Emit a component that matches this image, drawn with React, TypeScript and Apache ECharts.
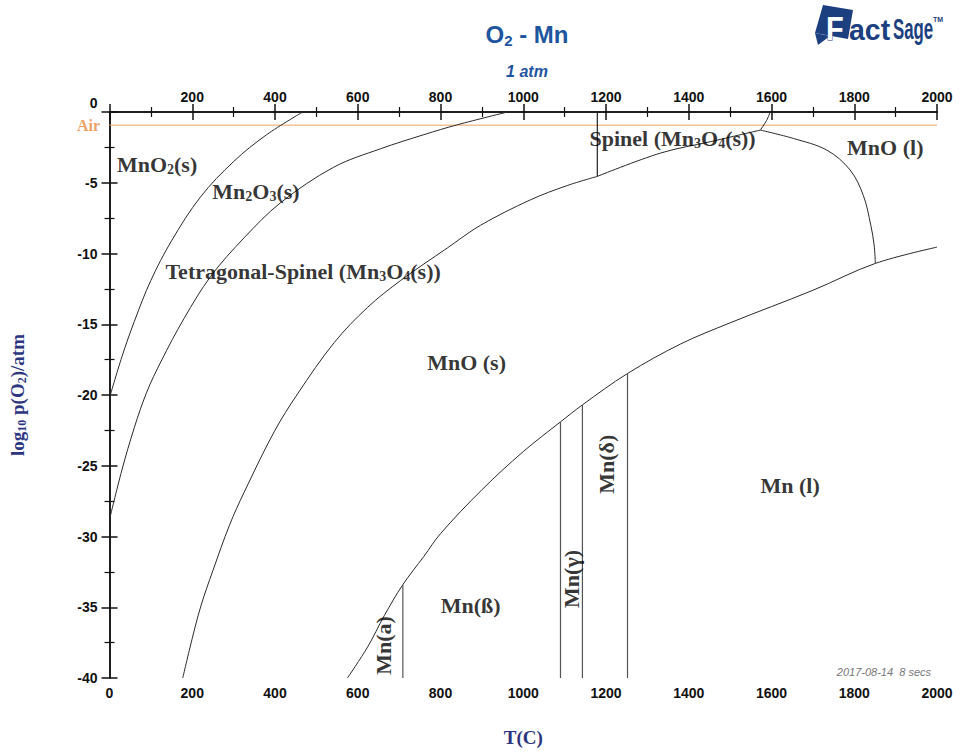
import React, { useEffect, useRef } from "react";
import * as echarts from "echarts";

// ---- data (T in °C, log10 pO2 in atm) ----
const X_TICKS = [0, 200, 400, 600, 800, 1000, 1200, 1400, 1600, 1800, 2000];
const Y_TICKS = [0, -5, -10, -15, -20, -25, -30, -35, -40];
const AIR = -0.93;

const T_MNO2 = [0, 30, 60, 100, 150, 220, 300, 380, 467];
const V_MNO2 = [-20.2, -17.3, -14.8, -11.9, -9.1, -6.0, -3.5, -1.6, 0];

const T_MN2O3 = [0, 30, 60, 90, 125, 180, 245, 325, 414, 542, 655, 760, 841, 962];
const V_MN2O3 = [-28.8, -25.3, -22.3, -19.8, -17.6, -14.6, -11.6, -8.9, -6.4, -3.9, -2.6, -1.6, -0.9, 0];

const T_MN3O4 = [177, 200, 221, 250, 290, 325, 398, 455, 543, 624, 704, 817, 897, 1018, 1106, 1179];
const V_MN3O4 = [-40, -37.2, -34.9, -32.4, -29.2, -26.9, -22.6, -19.9, -16.3, -13.8, -11.9, -9.6, -8.0, -6.2, -5.2, -4.55];

const T_SPINEL = [1179, 1332, 1452, 1573];
const V_SPINEL = [-4.55, -2.9, -2.1, -1.28];

const T_SPL = [1573, 1588, 1597];
const V_SPL = [-1.28, -0.6, 0];

const T_MNOL = [1573, 1653, 1734, 1790, 1822, 1840, 1848, 1851];
const V_MNOL = [-1.28, -1.87, -2.7, -4.1, -5.9, -8.0, -9.4, -10.7];

const T_MN = [575, 624, 664, 709, 760, 800, 900, 1000, 1090, 1143, 1251, 1380, 1500, 1700, 1851, 2000];
const V_MN = [-40, -37.8, -35.6, -33.4, -31.4, -29.8, -26.7, -24.0, -21.9, -20.7, -18.5, -16.4, -14.9, -12.6, -10.7, -9.55];

// vertical transitions: [T, top value, bottom value]
const VERTICALS = [
  [1179, 0, -4.55],
  [709, -33.4, -40],
  [1090, -21.9, -40],
  [1143, -20.7, -40],
  [1252, -18.5, -40],
];

// region labels: [T, value, text, rotated]
const REGION_LABELS: [number, number, string, boolean][] = [
  [115, -3.7, "{b|MnO}{s|2}{b|(s)}", false],
  [354, -5.6, "{b|Mn}{s|2}{b|O}{s|3}{b|(s)}", false],
  [468, -11.3, "{b|Tetragonal-Spinel (Mn}{s|3}{b|O}{s|4}{b|(s))}", false],
  [1361, -1.85, "{b|Spinel (Mn}{s|3}{b|O}{s|4}{b|(s))}", false],
  [1875, -2.5, "{b|MnO (l)}", false],
  [863, -17.7, "{b|MnO (s)}", false],
  [1645, -26.4, "{b|Mn (l)}", false],
  [873, -34.9, "{b|Mn(ß)}", false],
  [663, -37.7, "{b|Mn(a)}", true],
  [1117, -33.0, "{b|Mn(γ)}", true],
  [1201, -24.9, "{b|Mn(δ)}", true],
];

const zip = (a: number[], b: number[]) => a.map((t, i) => [t, b[i]]);

export default function App() {
  const ref = useRef<HTMLDivElement>(null);
  useEffect(() => {
    if (!ref.current) return;
    const chart = echarts.init(ref.current, undefined, { renderer: "svg" });
    const lineColor = "#2a2a2a";
    const curve = (name: string, data: number[][]) => ({
      name,
      type: "line",
      data,
      smooth: 0.35,
      showSymbol: false,
      symbol: "none",
      lineStyle: { color: lineColor, width: 1 },
      z: 3,
    });
    const navy = "#1c3f80";
    const series: any[] = [
      curve("MnO2/Mn2O3", zip(T_MNO2, V_MNO2)),
      curve("Mn2O3/Mn3O4", zip(T_MN2O3, V_MN2O3)),
      curve("Mn3O4/MnO", zip(T_MN3O4, V_MN3O4)),
      curve("Spinel/MnO", zip(T_SPINEL, V_SPINEL)),
      curve("Spinel/liq", zip(T_SPL, V_SPL)),
      curve("MnO s/l", zip(T_MNOL, V_MNOL)),
      curve("MnO/Mn", zip(T_MN, V_MN)),
      ...VERTICALS.map((v, i) => ({
        name: "v" + i,
        type: "line",
        data: [
          [v[0], v[1]],
          [v[0], v[2]],
        ],
        showSymbol: false,
        symbol: "none",
        lineStyle: { color: i === 0 ? "#222" : "#555", width: 1.2 },
        z: 3,
      })),
      {
        name: "Air",
        type: "line",
        data: [
          [0, AIR],
          [2000, AIR],
        ],
        showSymbol: false,
        symbol: "none",
        lineStyle: { color: "#f0a060", width: 1 },
        z: 2,
      },
      {
        name: "labels",
        type: "scatter",
        symbolSize: 1,
        itemStyle: { color: "rgba(0,0,0,0)" },
        z: 5,
        data: REGION_LABELS.map((l) => ({
          value: [l[0], l[1]],
          label: {
            show: true,
            position: "inside",
            formatter: l[2],
            rotate: l[3] ? 90 : 0,
            rich: {
              b: { fontFamily: "Liberation Serif", fontWeight: "bold", fontSize: 22, color: "#000" },
              s: {
                fontFamily: "Liberation Serif",
                fontWeight: "bold",
                fontSize: 14,
                color: "#000",
                padding: [10, 0, 0, 0],
              },
            },
          },
        })),
      },
      {
        name: "airLabel",
        type: "scatter",
        symbolSize: 1,
        itemStyle: { color: "rgba(0,0,0,0)" },
        data: [
          {
            value: [0, AIR],
            label: {
              show: true,
              position: "left",
              distance: 9,
              formatter: "Air",
              fontFamily: "Liberation Serif",
              fontWeight: "bold",
              fontSize: 16,
              color: "#e9883a",
            },
          },
        ],
      },
    ];

    const tickLabel = {
      fontFamily: "Liberation Sans",
      fontWeight: "bold",
      fontSize: 14,
      color: "#111",
    };
    const axisLine = { show: true, lineStyle: { color: "#111", width: 1.5 } };
    const axisTick = { show: true, inside: true, length: 8, lineStyle: { color: "#111", width: 1.5 } };
    const minorTick = { show: true, splitNumber: 2, length: 5, lineStyle: { color: "#111", width: 1.2 } };

    chart.setOption({
      animation: false,
      backgroundColor: "#fff",
      grid: { left: 108, top: 112, width: 829, height: 571, containLabel: false },
      xAxis: [
        {
          type: "value",
          position: "bottom",
          min: 0,
          max: 2000,
          interval: 200,
          axisLine,
          axisTick,
          minorTick,
          splitLine: { show: false },
          axisLabel: { ...tickLabel, margin: 8, formatter: (v: number) => (X_TICKS.includes(v) ? String(v) : "") },
          name: "T(C)",
          nameLocation: "middle",
          nameGap: 50,
          nameTextStyle: { fontFamily: "Liberation Serif", fontWeight: "bold", fontSize: 19, color: "#2d3580" },
        },
        {
          type: "value",
          position: "top",
          min: 0,
          max: 2000,
          interval: 200,
          axisLine,
          axisTick,
          minorTick,
          splitLine: { show: false },
          axisLabel: { ...tickLabel, margin: 8, formatter: (v: number) => (v === 0 ? "" : String(v)) },
        },
      ],
      yAxis: [
        {
          type: "value",
          position: "left",
          min: -40,
          max: 0,
          interval: 5,
          axisLine,
          axisTick,
          minorTick,
          splitLine: { show: false },
          axisLabel: {
            ...tickLabel,
            margin: 12,
            formatter: (v: number) => (v === 0 ? "{z|0}" : Y_TICKS.includes(v) ? String(v) : ""),
            rich: { z: { ...tickLabel, padding: [0, 0, 18, 0] } },
          },
          name: "{b|log}{s|10}{b| p(O}{s|2}{b|)/atm}",
          nameLocation: "middle",
          nameGap: 82,
          nameRotate: 90,
          nameTextStyle: {
            rich: {
              b: { fontFamily: "Liberation Serif", fontWeight: "bold", fontSize: 19, color: "#2d3580" },
              s: { fontFamily: "Liberation Serif", fontWeight: "bold", fontSize: 12, color: "#2d3580", padding: [8, 0, 0, 0] },
            },
          },
        },
        {
          type: "value",
          position: "right",
          min: -40,
          max: 0,
          interval: 5,
          axisLine,
          axisTick,
          minorTick,
          splitLine: { show: false },
          axisLabel: { show: false },
        },
      ],
      graphic: [
        {
          type: "text",
          x: 527,
          y: 34,
          style: {
            text: "{a|O}{s|2}{a| - Mn}",
            align: "center",
            verticalAlign: "middle",
            rich: {
              a: { fontFamily: "Liberation Sans", fontWeight: "bold", fontSize: 24, fill: "#1f55a0", color: "#1f55a0" },
              s: { fontFamily: "Liberation Sans", fontWeight: "bold", fontSize: 15, fill: "#1f55a0", color: "#1f55a0", padding: [12, 0, 0, 0] },
            },
          },
        },
        {
          type: "text",
          x: 527,
          y: 71,
          style: {
            text: "1 atm",
            align: "center",
            verticalAlign: "middle",
            font: "italic bold 16px 'Liberation Sans'",
            fill: "#1f55a0",
          },
        },
        {
          type: "text",
          x: 931,
          y: 672,
          style: {
            text: "2017-08-14  8 secs",
            align: "right",
            verticalAlign: "middle",
            font: "italic 11px 'Liberation Sans'",
            fill: "#777",
          },
        },
        // FactSage logo
        {
          type: "polygon",
          shape: { points: [[823, 5], [853, 10], [848, 39], [815, 33]] },
          style: { fill: navy },
        },
        {
          type: "polygon",
          shape: { points: [[815, 33], [830, 36], [818, 45]] },
          style: { fill: navy },
        },
        {
          type: "text",
          x: 826,
          y: 28,
          scaleX: 0.85,
          style: {
            text: "F",
            verticalAlign: "middle",
            font: "bold 34px 'Liberation Sans'",
            fill: "#fff",
            stroke: navy,
            lineWidth: 1,
          },
        },
        {
          type: "text",
          x: 849,
          y: 30,
          scaleX: 0.95,
          style: {
            text: "act",
            verticalAlign: "middle",
            font: "bold 30px 'Liberation Sans'",
            fill: navy,
          },
        },
        {
          type: "text",
          x: 893,
          y: 29,
          scaleX: 0.58,
          style: {
            text: "Sage",
            verticalAlign: "middle",
            font: "bold 29px 'Liberation Sans'",
            fill: navy,
          },
        },
        {
          type: "text",
          x: 933,
          y: 19,
          style: {
            text: "TM",
            verticalAlign: "middle",
            font: "bold 7px 'Liberation Sans'",
            fill: navy,
          },
        },
      ],
      series,
    });
    return () => chart.dispose();
  }, []);
  return (
    <div
      ref={ref}
      style={{ position: "absolute", left: 0, top: 0, width: 961, height: 752, background: "#fff" }}
    />
  );
}
